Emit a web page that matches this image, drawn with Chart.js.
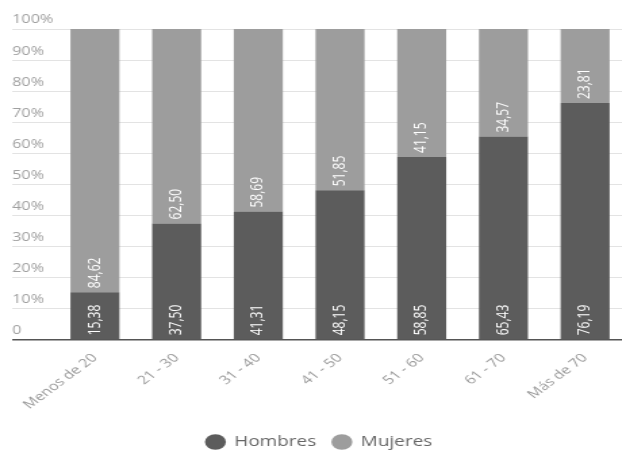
<!DOCTYPE html>
<html>
<head>
<meta charset="utf-8">
<script src="https://cdn.jsdelivr.net/npm/chart.js@4"></script>
<style>
  html, body { margin: 0; padding: 0; background: #fff; overflow: hidden; }
  /* the reference is stretched sideways, so the chart is drawn narrow and scaled */
  #wrap { width: 463px; height: 459px; transform: scaleX(1.352); transform-origin: 0 0; }
</style>
</head>
<body>
<div id="wrap"><canvas id="chart"></canvas></div>
<script>
const categories = ["Menos de 20", "21 - 30", "31 - 40", "41 - 50", "51 - 60", "61 - 70", "Más de 70"];
const hombres = [15.38, 37.50, 41.31, 48.15, 58.85, 65.43, 76.19];
const mujeres = [84.62, 62.50, 58.69, 51.85, 41.15, 34.57, 23.81];
const yTickLabels = ["0", "10%", "20%", "30%", "40%", "50%", "60%", "70%", "80%", "90%", "100%"];

Chart.defaults.font.family = "'Open Sans', sans-serif";

// white numbers written upwards at the foot of each segment
const valueLabels = {
    id: "valueLabels",
    afterDatasetsDraw(chart) {
        const ctx = chart.ctx;
        ctx.save();
        ctx.fillStyle = "#fff";
        ctx.font = "12px 'Open Sans', sans-serif";
        ctx.textAlign = "left";
        ctx.textBaseline = "middle";
        chart.data.datasets.forEach((ds, i) => {
            chart.getDatasetMeta(i).data.forEach((bar, j) => {
                const { x, base } = bar.getProps(["x", "base"], true);
                ctx.save();
                ctx.translate(x, base - 4);
                ctx.rotate(-Math.PI / 2);
                ctx.fillText(ds.data[j].toFixed(2).replace(".", ","), 0, 0);
                ctx.restore();
            });
        });
        ctx.restore();
    },
};

new Chart(document.getElementById("chart").getContext("2d"), {
    type: "bar",
    data: {
        labels: categories,
        datasets: [
            { label: "Hombres", data: hombres, backgroundColor: "#5c5c5c" },
            { label: "Mujeres", data: mujeres, backgroundColor: "#9d9d9d" },
        ],
    },
    options: {
        responsive: true,
        maintainAspectRatio: false,
        animation: false,
        layout: { padding: { top: 29, left: 9, right: 0, bottom: 0 } },
        datasets: { bar: { barPercentage: 0.6, categoryPercentage: 1 } },
        scales: {
            x: {
                stacked: true,
                grid: { display: false },
                border: { display: false },
                ticks: { color: "#9a9a9a", font: { size: 12 }, minRotation: 45, maxRotation: 45 },
                afterFit: (scale) => { scale.height = 83; },
            },
            y: {
                stacked: true,
                min: 0,
                max: 100,
                border: { display: false },
                grid: {
                    color: (c) => (c.tick && c.tick.value === 0 ? "#555" : "#e3e3e3"),
                    lineWidth: (c) => (c.tick && c.tick.value === 0 ? 1.5 : 1),
                    tickLength: 31,
                },
                ticks: {
                    stepSize: 10,
                    color: "#a0a0a0",
                    font: { size: 12 },
                    crossAlign: "far",
                    labelOffset: -9,
                    callback: (v, i) => yTickLabels[i],
                },
                afterFit: (scale) => { scale.width = 31; },
            },
        },
        plugins: {
            legend: {
                position: "bottom",
                labels: {
                    usePointStyle: true,
                    pointStyle: "circle",
                    boxHeight: 11,
                    color: "#666",
                    font: { size: 14 },
                    padding: 12,
                },
            },
            tooltip: { enabled: false },
        },
    },
    plugins: [valueLabels],
});
</script>
</body>
</html>
